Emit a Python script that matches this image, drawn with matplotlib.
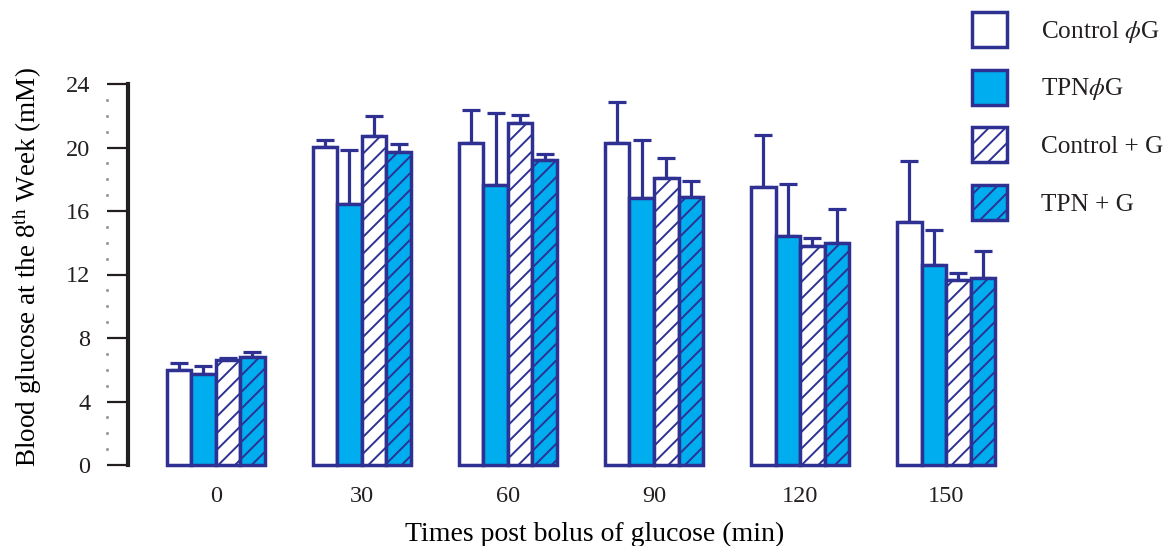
import numpy as np
import matplotlib
matplotlib.use("Agg")
import matplotlib.pyplot as plt
import matplotlib.transforms as mtransforms
from matplotlib.patches import Patch

plt.rcParams['font.family'] = ['Liberation Serif', 'DejaVu Serif']
plt.rcParams['mathtext.fontset'] = 'stix'
plt.rcParams['hatch.linewidth'] = 1.4
plt.rcParams['text.color'] = '#231F20'
plt.rcParams['xtick.labelcolor'] = '#231F20'
plt.rcParams['ytick.labelcolor'] = '#231F20'

# data
times = ["0", "30", "60", "90", "120", "150"]
series = ["Control $\\phi$G", "TPN$\\phi$G", "Control + G", "TPN + G"]
control_noG = [6.0, 20.05, 20.3, 20.3, 17.5, 15.3]
tpn_noG = [5.75, 16.45, 17.65, 16.8, 14.4, 12.6]
control_G = [6.6, 20.75, 21.55, 18.1, 13.8, 11.65]
tpn_G = [6.8, 19.7, 19.2, 16.9, 14.0, 11.8]
control_noG_err = [0.4, 0.45, 2.05, 2.55, 3.3, 3.85]
tpn_noG_err = [0.5, 3.4, 4.5, 3.65, 3.3, 2.2]
control_G_err = [0.15, 1.25, 0.5, 1.25, 0.5, 0.45]
tpn_G_err = [0.3, 0.5, 0.4, 1.0, 2.1, 1.7]

navy = '#2E3192'
cyan = '#00AEEF'
fills = ['white', cyan, 'white', cyan]
hatches = [None, None, '//', '//']
means = [control_noG, tpn_noG, control_G, tpn_G]
errs = [control_noG_err, tpn_noG_err, control_G_err, tpn_G_err]

fig = plt.figure(figsize=(11.71, 5.46), dpi=100)
ax = fig.add_axes([128 / 1171, 81 / 546, 900 / 1171, 381 / 546])

x = np.arange(len(times))
w = 0.168
for i in range(4):
    pos = x + (i - 1.5) * w
    ax.bar(pos, means[i], w, color=fills[i], edgecolor=navy, linewidth=2.5,
           hatch=hatches[i], clip_on=False, zorder=2)
    ax.errorbar(pos, means[i], yerr=[np.zeros(len(x)), errs[i]], fmt='none',
                ecolor=navy, elinewidth=2.3, capsize=6.5, capthick=2.3,
                clip_on=False, zorder=1)

ax.set_xlim(-0.6, 5.56)
ax.set_ylim(0, 24)
ax.set_yticks(np.arange(0, 25, 4))
ax.set_xticks(x)
ax.set_xticklabels(times)
ax.tick_params(axis='x', length=0, pad=15, labelsize=17.5)
ax.tick_params(axis='y', length=15, width=1.6, pad=12, labelsize=17.5, color='#231F20')

for s in ['top', 'right', 'bottom']:
    ax.spines[s].set_visible(False)
ax.spines['left'].set_linewidth(3)
ax.spines['left'].set_color('#231F20')

# small dotted minor marks
trans = mtransforms.blended_transform_factory(ax.transAxes, ax.transData)
trans = mtransforms.offset_copy(trans, fig=fig, x=-21, y=0, units='dots')
minor = [v for v in range(1, 24) if v % 4 != 0]
ax.plot(np.zeros(len(minor)), minor, linestyle='none', marker='o', markersize=1.2,
        color='#999999', transform=trans, clip_on=False)

ax.set_ylabel("Blood glucose at the 8$^{\\mathrm{th}}$ Week (mM)", fontsize=19.5)
ax.yaxis.set_label_coords(-0.093, 0.52)
ax.set_xlabel("Times post bolus of glucose (min)", fontsize=20)
ax.xaxis.set_label_coords(0.518, -0.15)

handles = [Patch(facecolor=fills[i], edgecolor=navy, linewidth=2.5, hatch=hatches[i])
           for i in range(4)]
fig.legend(handles, series, loc='upper left', bbox_to_anchor=(972 / 1171, 1 - 12 / 546),
           frameon=False, fontsize=18.2, handlelength=1.37, handleheight=1.75,
           labelspacing=0.9, handletextpad=1.37, borderpad=0, borderaxespad=0)

fig.savefig("out.png", dpi=100)
